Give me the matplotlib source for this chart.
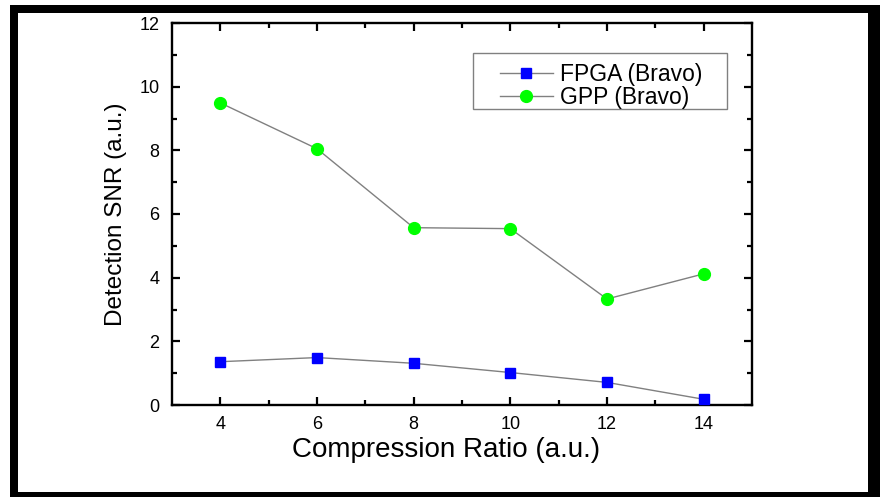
import matplotlib.pyplot as plt
from matplotlib.patches import Rectangle

plt.rcParams['font.family'] = ['Liberation Sans', 'DejaVu Sans']

ratio = [4, 6, 8, 10, 12, 14]
fpga = [1.36, 1.49, 1.31, 1.02, 0.71, 0.18]
gpp = [9.49, 8.05, 5.57, 5.54, 3.33, 4.12]

fig = plt.figure(figsize=(8.81, 4.97), dpi=100)

# black picture frame round the figure
W, H = 881, 497
fig.patches.append(Rectangle((10 / W, 0), 870 / W, 492 / H, transform=fig.transFigure,
                             facecolor='black', edgecolor='none', zorder=-20))
fig.patches.append(Rectangle((18 / W, 5 / H), 850 / W, 479 / H, transform=fig.transFigure,
                             facecolor='white', edgecolor='none', zorder=-10))

ax = fig.add_axes([172 / W, 92 / H, 580 / W, 382 / H])
ax.set_zorder(5)
ax.patch.set_alpha(0)
ax.plot(ratio, fpga, color='#808080', lw=1, marker='s', ms=7,
        mfc='#0000ff', mec='#0000ff', label='FPGA (Bravo)', clip_on=False, zorder=3)
ax.plot(ratio, gpp, color='#808080', lw=1, marker='o', ms=8.5,
        mfc='#00ff00', mec='#00ff00', label='GPP (Bravo)', clip_on=False, zorder=3)

ax.set_xlim(3, 15)
ax.set_ylim(0, 12)
ax.set_xticks(ratio)
ax.set_yticks(range(0, 13, 2))
ax.set_xticks(range(5, 14, 2), minor=True)
ax.set_yticks(range(1, 12, 2), minor=True)
ax.tick_params(which='both', direction='in', top=True, right=True, width=1.6,
               labelsize=13)
ax.tick_params(axis='x', pad=8)
ax.tick_params(axis='y', pad=9)
ax.tick_params(which='major', length=6)
ax.tick_params(which='minor', length=3.5)
for s in ax.spines.values():
    s.set_linewidth(1.7)

ax.set_xlabel('Compression Ratio (a.u.)', fontsize=20)
ax.xaxis.set_label_coords(0.472, -0.085)
ax.set_ylabel('Detection SNR (a.u.)', fontsize=17.5, labelpad=9)

# legend box drawn apart so the wide left margin can be kept
ax.add_patch(Rectangle((301 / 580, 296 / 382), 254 / 580, 56 / 382,
                       transform=ax.transAxes, facecolor='white',
                       edgecolor='#808080', lw=1, zorder=4))
leg = ax.legend(loc='upper left', bbox_to_anchor=(0.5655, 0.894), fontsize=16.5,
                frameon=False, handlelength=2.31, handletextpad=0.3,
                borderpad=0, borderaxespad=0, labelspacing=0.0)
leg.set_zorder(6)

fig.savefig('out.png', dpi=100)
